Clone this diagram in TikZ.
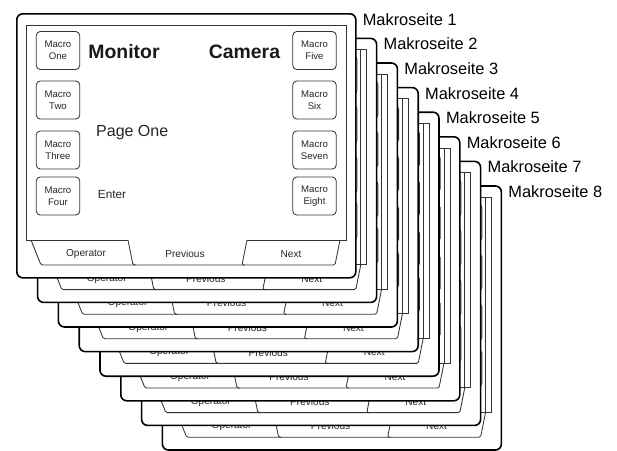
\documentclass[tikz,border=0pt]{standalone}
\usepackage{fontspec}
\setmainfont{Liberation Sans}
\tikzset{
  pageframe/.style={draw=black, line width=1.6pt, fill=white, rounded corners=6pt,
    minimum width=339pt, minimum height=264pt, anchor=north west, inner sep=0pt},
  innerline/.style={draw=black!80, line width=0.85pt},
  btn/.style={draw=black!80, line width=0.85pt, rounded corners=4pt, minimum width=43.5pt,
    minimum height=38pt, align=center, inner sep=0pt, text=black!85,
    font=\fontsize{9.6}{11.8}\selectfont},
  titletext/.style={font=\fontsize{19.4}{22}\selectfont\bfseries, inner sep=0pt, text=black!90},
  pagetext/.style={font=\fontsize{16}{19}\selectfont, anchor=west, inner sep=0pt, text=black!85},
  entertext/.style={font=\fontsize{11.8}{14}\selectfont, anchor=west, inner sep=0pt, text=black!85},
  tabtext/.style={font=\fontsize{10.1}{12}\selectfont, inner sep=0pt, text=black!85},
  pagelabel/.style={font=\fontsize{16.4}{19}\selectfont, anchor=west, inner sep=0pt},
}
\begin{document}
\begin{tikzpicture}[x=1pt, y=-1pt]
\useasboundingbox (0,0) rectangle (617,450);
\foreach \k in {8,7,...,1}{
  \begin{scope}[shift={({20.8*(\k-1)},{24.6*(\k-1)})}]
    \node[pageframe] (pg\k) at (16,13) {};
    \node[pagelabel] (lbl\k) at ([xshift=6pt,yshift=-6.5pt]pg\k.north east) {Makroseite \k};
    % screen with tabs
    \draw[innerline] (128,240) -- (26,240) -- (26,25) -- (346,25) -- (346,240) -- (247,240);
    \draw[innerline, rounded corners=1.5pt] (31,240) -- (41,265) -- (335,265) -- (340,240);
    \draw[innerline, rounded corners=1.5pt] (128,240) -- (133,265) -- (136,265);
    \draw[innerline, rounded corners=1.5pt] (247,240) -- (242,265) -- (245,265);
    \node[tabtext] (op\k) at (86,254) {Operator};
    \node[tabtext] (pr\k) at (185,254) {Previous};
    \node[tabtext] (nx\k) at (291,254) {Next};
    \ifnum\k>1
      % back pages: only the parts that show past the page in front
      \draw[innerline] (340,25) -- (340,240);
      \foreach \nm/\yy in {Five/50.5, Six/100, Seven/150, Eight/196}
        \node[btn] (m\nm\k) at (314.5,\yy) {};
    \else
      \foreach \nm/\yy in {One/50.5, Two/100, Three/150, Four/196}
        \node[btn] (m\nm\k) at (58,\yy) {Macro\\\nm};
      \foreach \nm/\yy in {Five/50.5, Six/100, Seven/150, Eight/196}
        \node[btn] (m\nm\k) at (314.5,\yy) {Macro\\\nm};
      \node[titletext] (mon\k) at (124,52) {Monitor};
      \node[titletext] (cam\k) at (244.5,52) {Camera};
      \node[pagetext] (po\k) at (96,133) {Page One};
      \node[entertext] (ent\k) at (97.7,194) {Enter};
    \fi
  \end{scope}
}
\end{tikzpicture}
\end{document}
